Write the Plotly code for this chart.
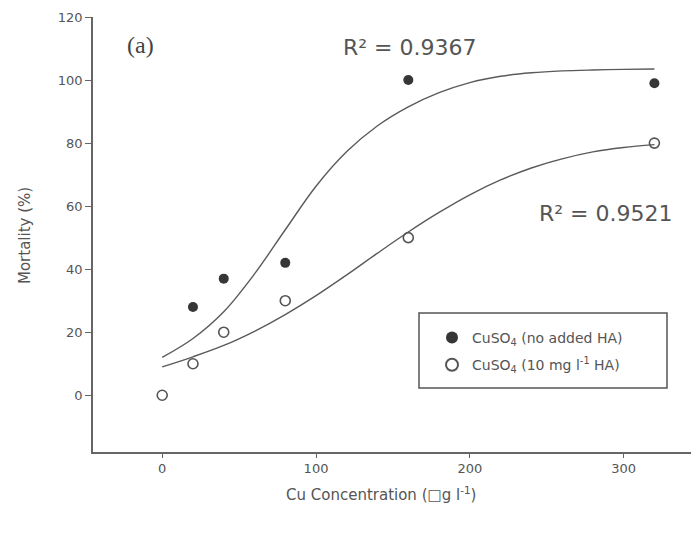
import plotly.graph_objects as go

# Observed data
conc = [0, 20, 40, 80, 160, 320]
mort_no_ha = [None, 28, 37, 42, 100, 99]
mort_ha = [0, 10, 20, 30, 50, 80]

# Fitted curves
fit_x = [0, 20, 40, 60, 80, 100, 120, 140, 160, 180, 200, 220, 240, 260, 280, 300, 320]
fit_no_ha = [12, 18, 26.5, 38.5, 52.5, 66.3, 77.3, 85.5, 91.5, 96, 99.2, 101.2, 102.3, 102.9, 103.2, 103.4, 103.5]
fit_ha = [9, 12.2, 15.8, 20.3, 25.6, 31.6, 38.2, 45.1, 51.8, 58, 63.6, 68.3, 72.1, 75, 77.2, 78.6, 79.5]

x_ticks = [0, 100, 200, 300]
y_ticks = [0, 20, 40, 60, 80, 100, 120]

axis_col = "#666666"
txt_col = "#555555"
sans = "DejaVu Sans, Liberation Sans, sans-serif"

# page body has an 8px margin; plot area in window px: x 93..699, y 17..452
L, T, R, B = 93, 17, 699, 452
W, H = R - L, B - T


def px(xw):
    return (xw - L) / W


def py(yw):
    return (B - yw) / H


fig = go.Figure()
fig.add_trace(go.Scatter(x=fit_x, y=fit_no_ha, mode="lines", line=dict(color="#5a5a5a", width=1.4, shape="spline"),
                         showlegend=False, hoverinfo="skip"))
fig.add_trace(go.Scatter(x=fit_x, y=fit_ha, mode="lines", line=dict(color="#5a5a5a", width=1.4, shape="spline"),
                         showlegend=False, hoverinfo="skip"))
fig.add_trace(go.Scatter(x=conc[1:], y=mort_no_ha[1:], mode="markers",
                         marker=dict(symbol="circle", size=10, color="#363636", line=dict(width=0)),
                         name="CuSO<sub>4</sub> (no added HA)", legendgroup="a"))
fig.add_trace(go.Scatter(x=conc, y=mort_ha, mode="markers",
                         marker=dict(symbol="circle-open", size=10, color="#555555", line=dict(width=1.6)),
                         name="CuSO<sub>4</sub> (10 mg l<sup>-1</sup> HA)", legendgroup="b"))


def note(text, xw, yw, size, color=txt_col, family=sans, angle=0):
    return dict(text=text, x=px(xw), y=py(yw), xref="paper", yref="paper", showarrow=False,
                xanchor="center", yanchor="middle", textangle=angle,
                font=dict(size=size, color=color, family=family))


fig.update_layout(
    width=691, height=527,
    margin=dict(l=L - 8, r=0, t=T - 8, b=527 - (B - 8)),
    paper_bgcolor="white", plot_bgcolor="white",
    font=dict(family=sans, color=txt_col, size=13),
    showlegend=True,
    legend=dict(x=px(432), y=py(322), xanchor="left", yanchor="top", bgcolor="rgba(0,0,0,0)",
                borderwidth=0, font=dict(size=14, color=txt_col, family=sans), tracegroupgap=6,
                itemsizing="constant"),
    xaxis=dict(range=[-45, 349], tickvals=x_ticks, showgrid=False, zeroline=False,
               showline=True, linecolor=axis_col, linewidth=1.5, ticks="outside", ticklen=4,
               tickcolor=axis_col, tickfont=dict(size=13, color=txt_col, family=sans)),
    yaxis=dict(range=[-18, 120], tickvals=y_ticks, showgrid=False, zeroline=False,
               showline=True, linecolor=axis_col, linewidth=1.5, ticks="outside", ticklen=6,
               tickcolor=axis_col, tickfont=dict(size=13, color=txt_col, family=sans)),
    shapes=[dict(type="rect", xref="paper", yref="paper",
                 x0=px(419), x1=px(667), y0=py(388), y1=py(313),
                 line=dict(color="#555555", width=1.5), fillcolor="rgba(0,0,0,0)")],
    annotations=[
        note("R² = 0.9367", 410, 47, 22),
        note("R² = 0.9521", 606, 213, 22),
        note("(a)", 140, 45, 24, color="#444444", family="Liberation Serif, Times New Roman, serif"),
        note("Mortality (%)", 25, 236, 15, angle=-90),
        note("Cu Concentration (\u25a1g l<sup>-1</sup>)", 381, 494, 15),
    ],
)

fig.write_html("out.html")
